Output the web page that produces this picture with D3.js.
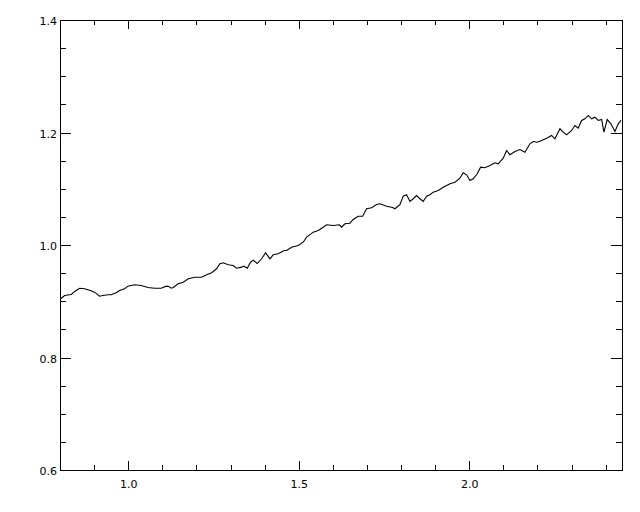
<!DOCTYPE html>
<html>
<head>
<meta charset="utf-8">
<script src="https://cdn.jsdelivr.net/npm/d3@7"></script>
<style>
  body { margin: 0; background: #fff; }
  svg { display: block; }
  .axis text { font-family: "DejaVu Sans", sans-serif; font-size: 11px; fill: #000; }
  .axis line { stroke: #000; shape-rendering: crispEdges; }
  .axis path { display: none; }
</style>
</head>
<body>
<div id="chart"></div>
<script>
// spectrum
var xVals = [0.802, 0.8135, 0.833, 0.843, 0.8575, 0.872, 0.8915, 0.9015, 0.916, 0.9258,
  0.9405, 0.95, 0.9648, 0.9748, 0.9894, 0.999, 1.0188, 1.0381, 1.0578, 1.0774,
  1.0968, 1.1114, 1.1194, 1.1261, 1.132, 1.1466, 1.1613, 1.176, 1.1956, 1.2152,
  1.2299, 1.2446, 1.2592, 1.2689, 1.2786, 1.2933, 1.3079, 1.3179, 1.3326, 1.3393,
  1.349, 1.3589, 1.3666, 1.3783, 1.3912, 1.4029, 1.4155, 1.4252, 1.4399, 1.4575,
  1.4645, 1.4792, 1.4985, 1.5132, 1.5232, 1.5425, 1.5572, 1.5718, 1.5818, 1.6012,
  1.6188, 1.6258, 1.6355, 1.6501, 1.6598, 1.6745, 1.6874, 1.6991, 1.7138, 1.7284,
  1.7381, 1.7578, 1.7754, 1.7821, 1.7968, 1.8065, 1.8164, 1.8261, 1.8358, 1.8457,
  1.8554, 1.8651, 1.8751, 1.8848, 1.8944, 1.9091, 1.9238, 1.9337, 1.9434, 1.9581,
  1.9727, 1.9824, 1.9924, 2.0021, 2.0117, 2.0235, 2.0334, 2.046, 2.0607, 2.0754,
  2.085, 2.0997, 2.1097, 2.1194, 2.134, 2.1487, 2.1633, 2.178, 2.1877, 2.1994,
  2.2123, 2.227, 2.2416, 2.2513, 2.266, 2.2757, 2.2856, 2.3003, 2.31, 2.3196,
  2.3296, 2.3393, 2.349, 2.3589, 2.3686, 2.3783, 2.3883, 2.395, 2.4047, 2.4155,
  2.4273, 2.437, 2.4449];
var yVals = [0.9044, 0.9103, 0.912, 0.9174, 0.9232, 0.9222, 0.9186, 0.9161, 0.909, 0.9103,
  0.9115, 0.9115, 0.9151, 0.9191, 0.9222, 0.9268, 0.9293, 0.928, 0.9245, 0.9232,
  0.9232, 0.9268, 0.9263, 0.9232, 0.9245, 0.931, 0.9339, 0.9399, 0.9428, 0.9428,
  0.9471, 0.9506, 0.9577, 0.9666, 0.9684, 0.9648, 0.9636, 0.9588, 0.9606, 0.9623,
  0.9588, 0.9694, 0.973, 0.9671, 0.9755, 0.9862, 0.9755, 0.9826, 0.9844, 0.9903,
  0.9903, 0.9961, 0.9991, 1.005, 1.0139, 1.0228, 1.0258, 1.0317, 1.0359, 1.0347,
  1.0359, 1.0317, 1.0377, 1.0388, 1.0454, 1.0512, 1.0512, 1.0644, 1.0662, 1.072,
  1.0733, 1.069, 1.0667, 1.0644, 1.0715, 1.0868, 1.0893, 1.0774, 1.0822, 1.088,
  1.0822, 1.0774, 1.0868, 1.0893, 1.0939, 1.0969, 1.1028, 1.1058, 1.1088, 1.1117,
  1.1188, 1.1284, 1.1248, 1.1147, 1.1177, 1.1266, 1.1384, 1.1373, 1.1414, 1.1462,
  1.1444, 1.1543, 1.168, 1.1604, 1.1663, 1.1698, 1.165, 1.1799, 1.184, 1.1828,
  1.1858, 1.1899, 1.1947, 1.1888, 1.2066, 1.2006, 1.1959, 1.2036, 1.2125, 1.2077,
  1.2214, 1.2244, 1.2303, 1.2244, 1.2272, 1.2214, 1.2231, 1.2006, 1.2231, 1.2155,
  1.2018, 1.2155, 1.2214];

var xMajor = [1.0, 1.5, 2.0];
var xMinor = [0.9, 1.1, 1.2, 1.3, 1.4, 1.6, 1.7, 1.8, 1.9, 2.1, 2.2, 2.3, 2.4];
var yMajor = [0.6, 0.8, 1.0, 1.2, 1.4];
var yMinor = [0.65, 0.7, 0.75, 0.85, 0.9, 0.95, 1.05, 1.1, 1.15, 1.25, 1.3, 1.35];

var width = 640, height = 512;
var margin = {top: 20, right: 18, bottom: 42, left: 60};
var w = width - margin.left - margin.right;
var h = height - margin.top - margin.bottom;

var svg = d3.select("#chart").append("svg")
    .attr("width", width)
    .attr("height", height);

var g = svg.append("g")
    .attr("transform", "translate(" + margin.left + "," + margin.top + ")");

var x = d3.scaleLinear().domain([0.8, 2.448]).range([0, w]);
var y = d3.scaleLinear().domain([0.6, 1.4]).range([h, 0]);

var fmt = d3.format(".1f");

// bottom: ticks point inward (up)
g.append("g").attr("class", "axis")
    .attr("transform", "translate(0," + h + ")")
    .call(d3.axisBottom(x).tickValues(xMajor).tickSize(-9.5).tickPadding(10).tickFormat(fmt));
g.append("g").attr("class", "axis")
    .attr("transform", "translate(0," + h + ")")
    .call(d3.axisBottom(x).tickValues(xMinor).tickSize(-5).tickFormat(""));
// top
g.append("g").attr("class", "axis")
    .call(d3.axisTop(x).tickValues(xMajor).tickSize(-9).tickFormat(""));
g.append("g").attr("class", "axis")
    .call(d3.axisTop(x).tickValues(xMinor).tickSize(-5).tickFormat(""));
// left
g.append("g").attr("class", "axis")
    .call(d3.axisLeft(y).tickValues(yMajor).tickSize(-11).tickPadding(3).tickFormat(fmt))
    .selectAll("text").attr("dy", "0.45em");
g.append("g").attr("class", "axis")
    .call(d3.axisLeft(y).tickValues(yMinor).tickSize(-6).tickFormat(""));
// right
g.append("g").attr("class", "axis")
    .attr("transform", "translate(" + w + ",0)")
    .call(d3.axisRight(y).tickValues(yMajor).tickSize(-11).tickFormat(""));
g.append("g").attr("class", "axis")
    .attr("transform", "translate(" + w + ",0)")
    .call(d3.axisRight(y).tickValues(yMinor).tickSize(-6).tickFormat(""));

// frame
g.append("rect")
    .attr("x", 0.5).attr("y", 0.5)
    .attr("width", w).attr("height", h)
    .attr("fill", "none")
    .attr("stroke", "#000")
    .attr("stroke-width", 1)
    .attr("shape-rendering", "crispEdges");

var line = d3.line()
    .x(function(d, i) { return x(xVals[i]); })
    .y(function(d) { return y(d); });

g.append("path")
    .datum(yVals)
    .attr("fill", "none")
    .attr("stroke", "#000")
    .attr("stroke-width", 1.1)
    .attr("d", line);
</script>
</body>
</html>
